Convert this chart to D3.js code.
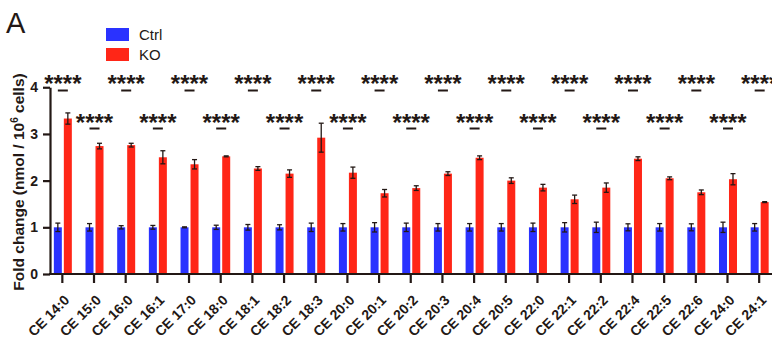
<!DOCTYPE html>
<meta charset="utf-8">
<title>CE fold change</title>
<style>
body { margin: 0; background: #fff; }
text { font-family: "Liberation Sans", Arial, sans-serif; fill: #231815; }
.tick text { font-weight: bold; }
</style>
<svg width="772" height="343"></svg>
<script src="https://d3js.org/d3.v7.min.js"></script>
<script>

// categories and values
var categories = ["CE 14:0", "CE 15:0", "CE 16:0", "CE 16:1", "CE 17:0", "CE 18:0", "CE 18:1",
  "CE 18:2", "CE 18:3", "CE 20:0", "CE 20:1", "CE 20:2", "CE 20:3", "CE 20:4", "CE 20:5",
  "CE 22:0", "CE 22:1", "CE 22:2", "CE 22:4", "CE 22:5", "CE 22:6", "CE 24:0", "CE 24:1"];

var ctrlMean = [1, 1, 1, 1, 1, 1, 1, 1, 1, 1, 1, 1, 1, 1, 1, 1, 1, 1, 1, 1, 1, 1, 1];
var ctrlErr = [0.09, 0.08, 0.035, 0.04, 0.01, 0.045, 0.06, 0.055, 0.09, 0.08, 0.1, 0.09,
  0.08, 0.08, 0.08, 0.09, 0.1, 0.11, 0.075, 0.08, 0.075, 0.11, 0.08];

var koMean = [3.33, 2.74, 2.76, 2.50, 2.35, 2.52, 2.26, 2.15, 2.92, 2.17, 1.73, 1.84,
  2.15, 2.49, 2.00, 1.85, 1.60, 1.85, 2.47, 2.05, 1.75, 2.03, 1.54];
var koErr = [0.12, 0.06, 0.04, 0.14, 0.1, 0.01, 0.04, 0.08, 0.31, 0.12, 0.08, 0.05,
  0.04, 0.04, 0.06, 0.07, 0.09, 0.1, 0.04, 0.03, 0.05, 0.12, 0.01];

var sig = categories.map(function() { return "****"; });

var yTicks = [0, 1, 2, 3, 4];
var seriesNames = ["Ctrl", "KO"];
var colors = ["#2a32ff", "#ff2617"];

var svg = d3.select("svg");
var ink = "#231815";

var x = d3.scaleBand().domain(categories).range([46.5, 775]).padding(0);
var y = d3.scaleLinear().domain([0, 4]).range([274, 87.25]);

function cx(d) { return x(d) + x.bandwidth() / 2; }

// bars
var groups = svg.append("g").selectAll("g")
  .data(categories)
  .enter().append("g");

groups.append("rect")
  .attr("x", function(d) { return cx(d) - 8.5; })
  .attr("y", function(d, i) { return y(ctrlMean[i]); })
  .attr("width", 8)
  .attr("height", function(d, i) { return y(0) - y(ctrlMean[i]); })
  .attr("fill", colors[0]);

groups.append("rect")
  .attr("x", function(d) { return cx(d) + 1.5; })
  .attr("y", function(d, i) { return y(koMean[i]); })
  .attr("width", 8)
  .attr("height", function(d, i) { return y(0) - y(koMean[i]); })
  .attr("fill", colors[1]);

// error bars
function errBar(sel, off, mean, err) {
  sel.each(function(d, i) {
    var g = d3.select(this), px = cx(d) + off;
    var lo = y(mean[i] - err[i]), hi = y(mean[i] + err[i]);
    g.append("line").attr("x1", px).attr("x2", px).attr("y1", lo).attr("y2", hi);
    g.append("line").attr("x1", px - 2.5).attr("x2", px + 2.5).attr("y1", lo).attr("y2", lo);
    g.append("line").attr("x1", px - 2.5).attr("x2", px + 2.5).attr("y1", hi).attr("y2", hi);
  });
}
var eb = groups.append("g").attr("stroke", ink).attr("stroke-width", 1.3);
errBar(eb, -4.5, ctrlMean, ctrlErr);
var eb2 = groups.append("g").attr("stroke", ink).attr("stroke-width", 1.3);
errBar(eb2, 5.5, koMean, koErr);

// significance marks, alternating rows
groups.append("line")
  .attr("x1", function(d) { return cx(d) - 4.5; })
  .attr("x2", function(d) { return cx(d) + 5.5; })
  .attr("y1", function(d, i) { return i % 2 ? 128.5 : 90.5; })
  .attr("y2", function(d, i) { return i % 2 ? 128.5 : 90.5; })
  .attr("stroke", ink)
  .attr("stroke-width", 2);

groups.append("text")
  .attr("x", function(d) { return cx(d) + 0.5; })
  .attr("y", function(d, i) { return i % 2 ? 131 : 92; })
  .attr("text-anchor", "middle")
  .style("font-size", "24px")
  .style("font-weight", "bold")
  .text(function(d, i) { return sig[i]; });

// y axis
var yAxis = svg.append("g")
  .attr("transform", "translate(50,0)")
  .call(d3.axisLeft(y).tickValues(yTicks).tickFormat(d3.format("d")).tickSize(7).tickSizeOuter(0));
yAxis.select(".domain").attr("stroke", ink).attr("stroke-width", 2.2);
yAxis.selectAll(".tick line").attr("stroke", ink).attr("stroke-width", 2.2);
yAxis.selectAll(".tick text").attr("x", -12).style("font-size", "14px");

// x axis
var xAxis = svg.append("g")
  .attr("transform", "translate(0,274)")
  .call(d3.axisBottom(x).tickSize(9).tickSizeOuter(0));
xAxis.select(".domain").remove();
xAxis.selectAll(".tick line").attr("stroke", ink).attr("stroke-width", 2.2);
xAxis.selectAll(".tick text")
  .attr("text-anchor", "end")
  .attr("x", 0).attr("y", 0).attr("dy", 0)
  .attr("transform", "translate(8,27) rotate(-45)")
  .style("font-size", "14px");

svg.append("line")
  .attr("x1", 49).attr("x2", 772)
  .attr("y1", 274).attr("y2", 274)
  .attr("stroke", ink).attr("stroke-width", 2.2);

// y title
svg.append("text")
  .attr("transform", "translate(24,182) rotate(-90)")
  .attr("text-anchor", "middle")
  .style("font-size", "15.5px")
  .style("font-weight", "bold")
  .call(function(t) {
    t.append("tspan").text("Fold change (nmol / 10");
    t.append("tspan").attr("dy", -6).style("font-size", "10px").text("6");
    t.append("tspan").attr("dy", 6).text(" cells)");
  });

// legend
var legend = svg.append("g").selectAll("g")
  .data(seriesNames)
  .enter().append("g")
  .attr("transform", function(d, i) { return "translate(106," + (28 + i * 20) + ")"; });
legend.append("rect").attr("width", 23).attr("height", 13)
  .attr("fill", function(d, i) { return colors[i]; });
legend.append("text").attr("x", 33).attr("y", 12)
  .style("font-size", "15px")
  .text(function(d) { return d; });

// panel letter
svg.append("text").attr("x", 6).attr("y", 33)
  .style("font-size", "29px")
  .text("A");

</script>
